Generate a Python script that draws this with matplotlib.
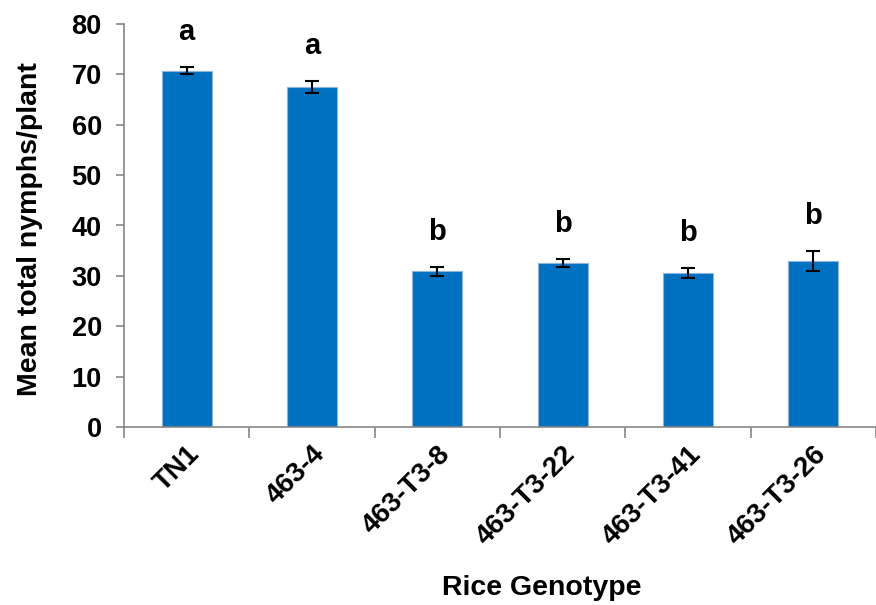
import numpy as np
import matplotlib
matplotlib.use("Agg")
import matplotlib.pyplot as plt

# data
genotypes = ["TN1", "463-4", "463-T3-8", "463-T3-22", "463-T3-41", "463-T3-26"]
means = [70.7, 67.5, 30.9, 32.6, 30.5, 33.0]
errors = [0.7, 1.2, 0.9, 0.8, 1.0, 2.0]
letters = ["a", "a", "b", "b", "b", "b"]

plt.rcParams['font.family'] = ['Liberation Sans', 'DejaVu Sans']

fig = plt.figure(figsize=(8.76, 6.05), dpi=100)
ax = fig.add_axes([124 / 876, 178 / 605, 752 / 876, 403 / 605])

x = np.arange(len(genotypes))
ax.bar(x, means, width=0.4, color="#0070C0", edgecolor="#8EB4E3", linewidth=0.8,
       yerr=errors, error_kw=dict(ecolor="black", elinewidth=1.5, capsize=5, capthick=1.5))

for xi, m, e, lab in zip(x, means, errors, letters):
    ax.text(xi, m + e + 4.2, lab, ha="center", va="bottom",
            fontsize=21, fontweight="bold")

ax.set_ylim(0, 80)
ax.set_xlim(-0.5, 5.39)
ax.set_yticks(np.arange(0, 81, 10))
ax.tick_params(axis="y", labelsize=19.5, length=6, color="#868686", width=1.2, pad=10)
for t in ax.get_yticklabels():
    t.set_fontweight("bold")

# ticks between categories, labels at centers
ax.set_xticks(np.arange(-0.5, 6, 1))
ax.set_xticklabels([])
ax.tick_params(axis="x", which="major", length=8, color="#868686", width=1.2)
ax.set_xticks(x, minor=True)
ax.set_xticklabels(genotypes, minor=True, rotation=45, ha="right",
                   rotation_mode="anchor", fontsize=20, fontweight="bold")
ax.tick_params(axis="x", which="minor", length=0, pad=10)

for s in ["top", "right"]:
    ax.spines[s].set_visible(False)
for s in ["left", "bottom"]:
    ax.spines[s].set_color("#868686")
    ax.spines[s].set_linewidth(1.2)

ax.set_ylabel("Mean total nymphs/plant", fontsize=20.5, fontweight="bold")
ax.yaxis.set_label_coords(-0.108, 0.49)
fig.text(542 / 876, 1 - 588 / 605, "Rice Genotype", ha="center", va="center",
         fontsize=20.5, fontweight="bold")

fig.savefig("out.png", dpi=100)
